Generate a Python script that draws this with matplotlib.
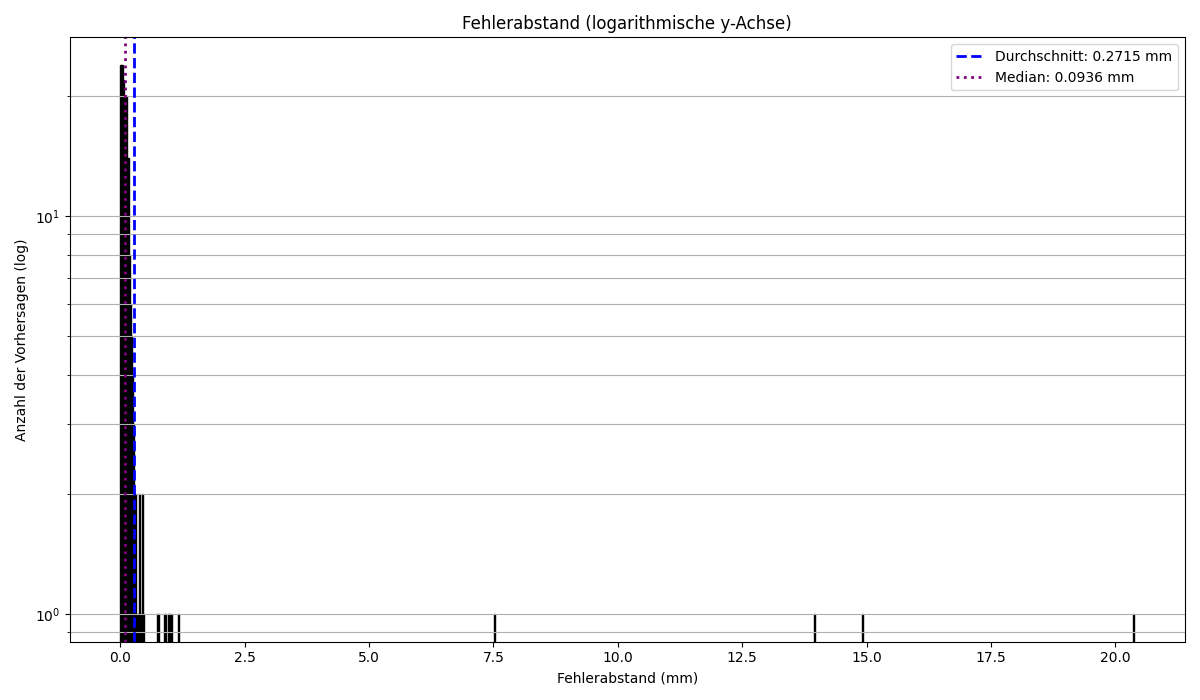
import numpy as np
import matplotlib
matplotlib.use("Agg")
import matplotlib.pyplot as plt

# bin centres (mm) and counts, only non-empty bins
error_mm = [0.010, 0.031, 0.051, 0.071, 0.092, 0.112, 0.132, 0.153, 0.173,
            0.194, 0.214, 0.234, 0.255, 0.275, 0.296, 0.316, 0.336, 0.357,
            0.377, 0.397, 0.418, 0.438, 0.458,
            0.744, 0.764, 0.887, 0.907, 0.968, 0.988, 1.029, 1.172,
            7.530, 13.95, 14.91, 20.37]
counts = [24, 24, 24, 22, 20, 20, 20, 14, 14,
          8, 6, 5, 4, 3, 2, 2, 1, 1,
          2, 1, 1, 2, 1,
          1, 1, 1, 1, 1, 1, 1, 1,
          1, 1, 1, 1]

mean_err = 0.2715
median_err = 0.0936
n_bins = 1000
hist_range = (0.0, 20.38)

fig, ax = plt.subplots(figsize=(12, 7), dpi=100)
ax.hist(error_mm, bins=n_bins, range=hist_range, weights=counts, log=True,
        color='black', edgecolor='black')
ax.axvline(mean_err, color='blue', linestyle='--', linewidth=2,
           label=f'Durchschnitt: {mean_err:.4f} mm')
ax.axvline(median_err, color='purple', linestyle=':', linewidth=2,
           label=f'Median: {median_err:.4f} mm')

ax.set_title('Fehlerabstand (logarithmische y-Achse)')
ax.set_xlabel('Fehlerabstand (mm)')
ax.set_ylabel('Anzahl der Vorhersagen (log)')
ax.grid(True, which='both', axis='y')
ax.legend(loc='upper right')

plt.tight_layout()
plt.savefig('out.png')
